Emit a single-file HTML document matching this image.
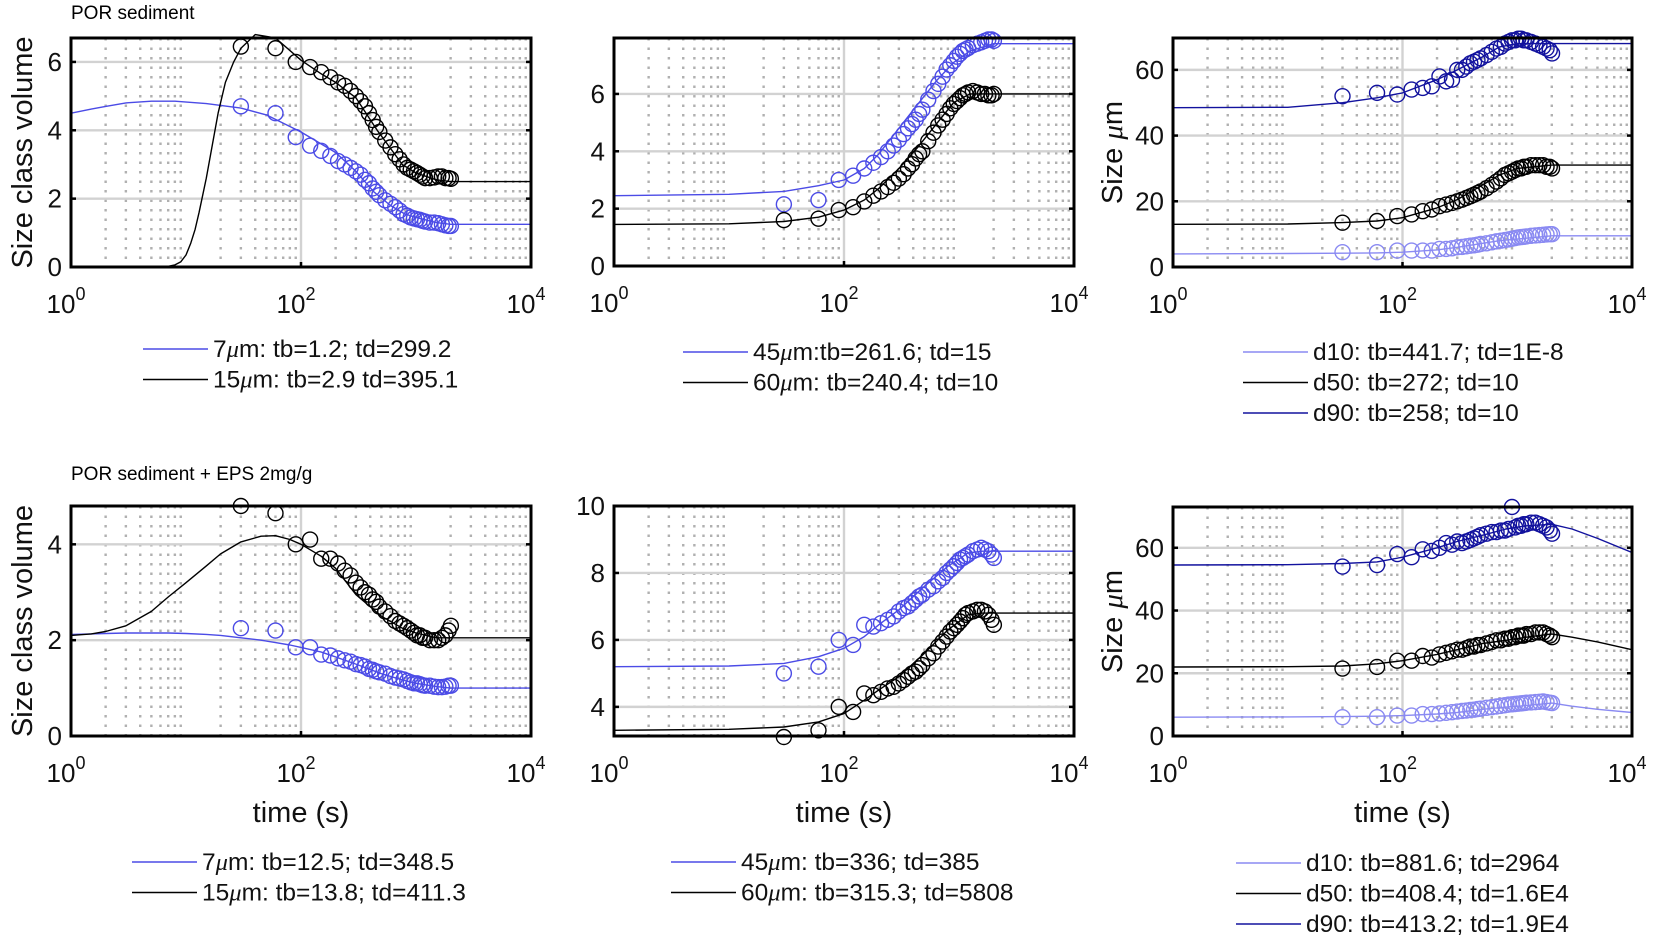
<!DOCTYPE html>
<html><head><meta charset="utf-8">
<style>
html,body{margin:0;padding:0;background:#fff;}
body{width:1660px;height:946px;overflow:hidden;font-family:"Liberation Sans",Arial,sans-serif;}
svg text{font-family:"Liberation Sans",Arial,sans-serif;}
</style></head>
<body>
<svg id="fig" width="1660" height="946" viewBox="0 0 1660 946" xmlns="http://www.w3.org/2000/svg">
<text x="71" y="19" font-size="19" fill="#000">POR sediment</text>
<text x="71" y="480" font-size="19" fill="#000">POR sediment + EPS 2mg/g</text>
</svg>
<script>
// shared sample times (s)
const sampleTimes = [30,60,90,120,150,180,210,240,270,300,330,360,390,420,450,480,540,600,660,720,780,840,900,960,1020,1080,1140,1200,1320,1440,1560,1680,1800,1920,2010];
const xTickLabels = ["0","2","4"];

// Panel A (POR, 7 & 15 um)
const a7FitT = [1,1.5,2,3,5,8,15,30,50,100,200,300,430,600,800,1000,1500,2000,10000];
const a7Pts = [4.7,4.5,3.8,3.55,3.4,3.25,3.1,3.0,2.9,2.8,2.7,2.55,2.45,2.3,2.2,2.1,1.95,1.85,1.75,1.65,1.55,1.5,1.45,1.42,1.4,1.38,1.35,1.33,1.3,1.3,1.28,1.25,1.22,1.2,1.2];
const a7Fit = [4.5,4.62,4.7,4.8,4.85,4.85,4.78,4.65,4.45,3.95,3.35,2.8,2.2,1.8,1.55,1.45,1.3,1.25,1.25];
const a15Pts = [6.45,6.4,6.0,5.85,5.7,5.55,5.4,5.3,5.15,5.0,4.85,4.7,4.5,4.3,4.1,3.95,3.7,3.5,3.3,3.15,3.0,2.9,2.85,2.8,2.75,2.7,2.65,2.6,2.6,2.62,2.65,2.65,2.6,2.6,2.58];
const a15FitT = [1,5,7,8,9,10,11,12,13,15,17,19,22,26,30,40,60,100,150,200,300,460,760,1000,1500,2000,10000];
const a15Fit = [0,0,0.02,0.06,0.15,0.35,0.7,1.1,1.6,2.6,3.6,4.5,5.4,6.0,6.4,6.8,6.7,6.05,5.65,5.4,4.95,4.0,3.0,2.75,2.55,2.5,2.5];
const aYTicks = [0,2,4,6];

// Panel B (POR, 45 & 60 um)
const bFitT = [1,10,30,60,100,150,200,300,430,650,900,1250,2000,10000];
const b45Pts = [2.15,2.3,3.0,3.15,3.4,3.6,3.8,4.0,4.2,4.4,4.6,4.8,4.95,5.1,5.3,5.45,5.8,6.1,6.35,6.6,6.85,7.0,7.15,7.3,7.4,7.5,7.55,7.6,7.7,7.75,7.8,7.85,7.9,7.9,7.85];
const b45Fit = [2.45,2.5,2.6,2.8,3.0,3.4,3.9,4.8,5.6,6.5,7.1,7.5,7.75,7.75];
const b60Pts = [1.6,1.65,1.95,2.05,2.25,2.45,2.6,2.75,2.9,3.05,3.2,3.4,3.55,3.75,3.9,4.0,4.35,4.65,4.9,5.1,5.3,5.5,5.65,5.75,5.85,5.95,6.0,6.05,6.1,6.05,6.0,6.0,5.95,5.95,6.0];
const b60Fit = [1.45,1.47,1.55,1.7,1.95,2.3,2.7,3.4,4.1,5.0,5.7,6.0,6.0,6.0];
const bYTicks = [0,2,4,6];

// Panel C (POR, d10/d50/d90)
const cFitT = [1,10,30,60,100,200,300,500,700,1000,2000,10000];
const cD90Pts = [52,53,52.5,54,54.5,55,58,56.5,57,60,60,61,62,62.5,63,63.5,64.5,65.5,66.5,67,68,68.5,69,69,69.5,69.5,69,69,68.5,68,67.5,67,66.5,66,65];
const cD90Fit = [48.5,48.6,50,51.5,53,57,60,64,67,68,68,68];
const cD50Pts = [13.5,14,15.5,16,17,17.5,18.5,19,19.5,20,20.5,21,21.5,22,22.5,23,24,25,26,27,28,28.5,29,29.5,30,30,30.5,30.5,31,31,31,31,30.5,30.5,30];
const cD50Fit = [13,13.1,13.5,14,15,18,20.5,25,28,30,31,31];
const cD10Pts = [4.5,4.5,5,5,5,5,5.5,5.5,5.7,6,6.1,6.3,6.5,6.6,6.8,7,7.2,7.5,7.8,8,8.2,8.4,8.6,8.8,9,9.1,9.2,9.3,9.5,9.6,9.7,9.8,9.9,10,10];
const cD10Fit = [4,4.1,4.2,4.3,4.5,5.2,6,7.2,8,8.5,9.5,9.5];
const cYTicks = [0,20,40,60];

// Panel D (EPS, 7 & 15 um)
const dFitT = [1,1.5,2,3,5,7,10,15,20,30,45,60,80,100,150,200,300,500,760,1000,1500,2000,10000];
const d7Pts = [2.25,2.2,1.85,1.85,1.7,1.68,1.62,1.58,1.55,1.5,1.48,1.45,1.4,1.38,1.35,1.33,1.3,1.25,1.22,1.2,1.18,1.15,1.12,1.1,1.1,1.08,1.06,1.05,1.05,1.03,1.02,1.02,1.03,1.05,1.05];
const d7Fit = [2.12,2.13,2.14,2.15,2.15,2.15,2.14,2.12,2.1,2.05,2.0,1.95,1.9,1.85,1.75,1.65,1.5,1.3,1.17,1.1,1.03,1.0,1.0];
const d15Pts = [4.8,4.65,4.0,4.1,3.7,3.7,3.6,3.45,3.35,3.2,3.1,3.0,2.95,2.85,2.8,2.7,2.6,2.5,2.4,2.35,2.3,2.25,2.2,2.15,2.1,2.1,2.05,2.05,2.0,2.0,2.0,2.05,2.1,2.2,2.3];
const d15Fit = [2.1,2.13,2.18,2.3,2.6,2.9,3.2,3.55,3.8,4.05,4.17,4.18,4.1,4.0,3.75,3.5,2.95,2.5,2.25,2.15,2.05,2.05,2.05];
const dYTicks = [0,2,4];

// Panel E (EPS, 45 & 60 um)
const eFitT = [1,10,30,60,100,150,200,300,500,800,1200,1600,10000];
const e45Pts = [5.0,5.2,6.0,5.85,6.45,6.4,6.5,6.6,6.7,6.85,6.95,7.0,7.1,7.2,7.3,7.35,7.5,7.6,7.75,7.85,8.0,8.1,8.2,8.3,8.4,8.45,8.5,8.55,8.65,8.7,8.75,8.7,8.65,8.55,8.45];
const e45Fit = [5.2,5.22,5.3,5.5,5.75,6.1,6.45,6.9,7.6,8.2,8.6,8.65,8.65];
const e60Pts = [3.1,3.3,4.0,3.85,4.4,4.35,4.45,4.55,4.6,4.7,4.8,4.9,5.0,5.05,5.15,5.25,5.45,5.6,5.8,5.95,6.1,6.25,6.35,6.45,6.55,6.65,6.75,6.8,6.85,6.9,6.9,6.85,6.75,6.6,6.45];
const e60Fit = [3.3,3.33,3.4,3.55,3.8,4.2,4.5,4.9,5.6,6.3,6.75,6.8,6.8];
const eYTicks = [4,6,8,10];

// Panel F (EPS, d10/d50/d90)
const fFitT = [1,10,30,60,100,200,300,500,800,1200,2000,3000,5000,10000];
const fD90Pts = [54,54.5,58,57,59.5,59,60,61.5,61,62,61.5,62,62.5,63,63.5,64,64.5,65,65,65.5,65.5,66,73,66.5,67,67,67.5,67.5,68,68,67.5,67,66.5,65.5,64.5];
const fD90Fit = [54.5,54.6,55,55.5,57,60,62,64,66,67,67.5,66,63,58.5];
const fD50Pts = [21.5,22,24,24,25.5,25,26,26.5,27,27.5,27.5,28,28.5,28.5,29,29,29.5,30,30.5,30.5,31,31,31.5,31.5,32,32,32,32.5,32.5,33,33,33,32.5,32,31.5];
const fD50Fit = [22,22.1,22.3,23,24,26,27.5,29.5,30.5,31.5,32.5,31.5,30,27.5];
const fD10Pts = [6,6,6.5,6.5,7,7,7.2,7.4,7.6,7.8,8,8.1,8.3,8.4,8.6,8.7,9,9.2,9.4,9.6,9.8,10,10.1,10.2,10.3,10.4,10.5,10.6,10.7,10.8,10.9,11,10.8,10.6,10.5];
const fD10Fit = [6,6.1,6.2,6.3,6.5,7,7.5,8.5,9.2,9.7,10.5,9.5,8.5,7.5];
const fYTicks = [0,20,40,60];

const BLUE = "#4b4be6", BLACK = "#000", LIGHT = "#8a8af2", DARK = "#12129e";
const NS = "http://www.w3.org/2000/svg";
const svg = document.getElementById("fig");

function mk(tag, attrs, parent) {
  const e = document.createElementNS(NS, tag);
  for (const k in attrs) e.setAttribute(k, attrs[k]);
  (parent || svg).appendChild(e);
  return e;
}

function drawPanel(p) {
  const g = mk("g", {});
  
  
  const xs = t => p.x0 + (Math.log10(t) / 4) * (p.x1 - p.x0);
  const ys = v => p.y1 - (v - p.ymin) / (p.ymax - p.ymin) * (p.y1 - p.y0);
  for (let d = 0; d < 4; d++) for (let m = 2; m <= 9; m++) {
    const x = xs(m * Math.pow(10, d));
    const l = mk("line", {x1:x, x2:x, y1:p.y0, y2:p.y1, stroke:"#b0b0b0", "stroke-width":2.4, "stroke-dasharray":"2.5,7"}, g);
    
    
  }
  for (let d = 1; d < 4; d++) {
    const x = xs(Math.pow(10, d));
    if (d === 2) {
      const l = mk("line", {x1:x, x2:x, y1:p.y0, y2:p.y1, stroke:"#d2d2d2", "stroke-width":2.4}, g);
      
      
    }
  }
  p.yticks.forEach(v => {
    const y = ys(v);
    if (y > p.y0 + 1 && y < p.y1 - 1) {
      const l = mk("line", {x1:p.x0, x2:p.x1, y1:y, y2:y, stroke:"#d2d2d2", "stroke-width":2.4}, g);
      
      
    }
    const tl = mk("line", {x1:p.x0, x2:p.x0 + 5, y1:y, y2:y, stroke:"#000", "stroke-width":2.5}, g);
    
    
    const tr = mk("line", {x1:p.x1, x2:p.x1 - 5, y1:y, y2:y, stroke:"#000", "stroke-width":2.5}, g);
    
    
    const t = mk("text", {x:p.x0 - 9, y:y + 9, "font-size":26, "text-anchor":"end", fill:"#111"}, g);
    t.textContent = String(v);
    
    
  });
  const cid = "clip-" + p.name;
  const cp = mk("clipPath", {id: cid}, g);
  mk("rect", {x:p.x0, y:p.y0 - 8, width:p.x1 - p.x0, height:p.y1 - p.y0 + 16}, cp);
  const dg = mk("g", {"clip-path": "url(#" + cid + ")"}, g);
  p.series.forEach(s => {
    const pts = s.fitT.map((t, i) => xs(t).toFixed(1) + "," + ys(s.fit[i]).toFixed(1)).join(" ");
    const pl = mk("polyline", {points: pts, fill: "none", stroke: s.color, "stroke-width": 1.4, "stroke-linejoin":"round"}, dg);
    
    
  });
  p.series.forEach(s => {
    s.pts.forEach((v, i) => {
      const c = mk("circle", {cx: xs(sampleTimes[i]), cy: ys(v), r: 7.5, fill: "none", stroke: s.color, "stroke-width": 1.4}, g);
      
      
    });
  });
  xTickLabels.forEach(lab => {
    const x = xs(Math.pow(10, +lab));
    const tk = mk("line", {x1:x, x2:x, y1:p.y1, y2:p.y1 - 5, stroke:"#000", "stroke-width":2.5}, g);
    
    
    const t = mk("text", {x:x - 5, y:p.y1 + 46, "font-size":26, "text-anchor":"middle", fill:"#111"}, g);
    t.textContent = "10";
    const sup = mk("tspan", {dy:-13, "font-size":18}, t);
    sup.textContent = lab;
    
    
  });
  const box = mk("rect", {x:p.x0, y:p.y0, width:p.x1 - p.x0, height:p.y1 - p.y0, fill:"none", stroke:"#000", "stroke-width":3}, g);
  
  
  if (p.ylabel) {
    const cy = (p.y0 + p.y1) / 2;
    const t = mk("text", {x:p.ylx, y:cy, "font-size":29, "text-anchor":"middle", fill:"#111", transform:"rotate(-90 " + p.ylx + " " + cy + ")"}, g);
    t.innerHTML = p.ylabel;
    
    
  }
  if (p.xlabel) {
    const t = mk("text", {x:(p.x0 + p.x1) / 2, y:p.y1 + 86, "font-size":29, "text-anchor":"middle", fill:"#111"}, g);
    t.textContent = "time (s)";
    
    
  }
  p.legend.forEach((L, i) => {
    const y = p.ly + i * 30.5;
    const lg = mk("g", {}, g);
    
    
    mk("line", {x1:p.lx, x2:p.lx + 65, y1:y, y2:y, stroke:L.color, "stroke-width":1.6}, lg);
    const t = mk("text", {x:p.lx + 70, y:y + 8, "font-size":24.5, fill:"#111"}, lg);
    t.innerHTML = L.text;
  });
}

const MU = '<tspan font-family="Liberation Serif" font-style="italic">μ</tspan>';
const panels = [
  {name:"panel-por-7-15um", x0:71, x1:531, y0:38, y1:267, ymin:0, ymax:6.7, yticks:aYTicks, ylabel:"Size class volume", ylx:32,
   series:[{key:"7um", color:BLUE, pts:a7Pts, fitT:a7FitT, fit:a7Fit},{key:"15um", color:BLACK, pts:a15Pts, fitT:a15FitT, fit:a15Fit}],
   lx:143, ly:349, legend:[{color:BLUE, text:"7"+MU+"m: tb=1.2; td=299.2"},{color:BLACK, text:"15"+MU+"m: tb=2.9 td=395.1"}]},
  {name:"panel-por-45-60um", x0:614, x1:1074, y0:38, y1:266, ymin:0, ymax:7.95, yticks:bYTicks,
   series:[{key:"45um", color:BLUE, pts:b45Pts, fitT:bFitT, fit:b45Fit},{key:"60um", color:BLACK, pts:b60Pts, fitT:bFitT, fit:b60Fit}],
   lx:683, ly:352, legend:[{color:BLUE, text:"45"+MU+"m:tb=261.6; td=15"},{color:BLACK, text:"60"+MU+"m: tb=240.4; td=10"}]},
  {name:"panel-por-d10-d50-d90", x0:1173, x1:1632, y0:38, y1:267, ymin:0, ymax:69.7, yticks:cYTicks, ylabel:"Size "+MU+"m", ylx:1122,
   series:[{key:"d10", color:LIGHT, pts:cD10Pts, fitT:cFitT, fit:cD10Fit},{key:"d50", color:BLACK, pts:cD50Pts, fitT:cFitT, fit:cD50Fit},{key:"d90", color:DARK, pts:cD90Pts, fitT:cFitT, fit:cD90Fit}],
   lx:1243, ly:352, legend:[{color:LIGHT, text:"d10: tb=441.7; td=1E-8"},{color:BLACK, text:"d50: tb=272; td=10"},{color:DARK, text:"d90: tb=258; td=10"}]},
  {name:"panel-eps-7-15um", x0:71, x1:531, y0:506, y1:736, ymin:0, ymax:4.8, yticks:dYTicks, ylabel:"Size class volume", ylx:32, xlabel:true,
   series:[{key:"7um", color:BLUE, pts:d7Pts, fitT:dFitT, fit:d7Fit},{key:"15um", color:BLACK, pts:d15Pts, fitT:dFitT, fit:d15Fit}],
   lx:132, ly:862, legend:[{color:BLUE, text:"7"+MU+"m: tb=12.5; td=348.5"},{color:BLACK, text:"15"+MU+"m: tb=13.8; td=411.3"}]},
  {name:"panel-eps-45-60um", x0:614, x1:1074, y0:506, y1:736, ymin:3.13, ymax:10, yticks:eYTicks, xlabel:true,
   series:[{key:"45um", color:BLUE, pts:e45Pts, fitT:eFitT, fit:e45Fit},{key:"60um", color:BLACK, pts:e60Pts, fitT:eFitT, fit:e60Fit}],
   lx:671, ly:862, legend:[{color:BLUE, text:"45"+MU+"m: tb=336; td=385"},{color:BLACK, text:"60"+MU+"m: tb=315.3; td=5808"}]},
  {name:"panel-eps-d10-d50-d90", x0:1173, x1:1632, y0:507, y1:736, ymin:0, ymax:73, yticks:fYTicks, ylabel:"Size "+MU+"m", ylx:1122, xlabel:true,
   series:[{key:"d10", color:LIGHT, pts:fD10Pts, fitT:fFitT, fit:fD10Fit},{key:"d50", color:BLACK, pts:fD50Pts, fitT:fFitT, fit:fD50Fit},{key:"d90", color:DARK, pts:fD90Pts, fitT:fFitT, fit:fD90Fit}],
   lx:1236, ly:863, legend:[{color:LIGHT, text:"d10: tb=881.6; td=2964"},{color:BLACK, text:"d50: tb=408.4; td=1.6E4"},{color:DARK, text:"d90: tb=413.2; td=1.9E4"}]}
];
panels.forEach(drawPanel);
</script>
</body></html>
